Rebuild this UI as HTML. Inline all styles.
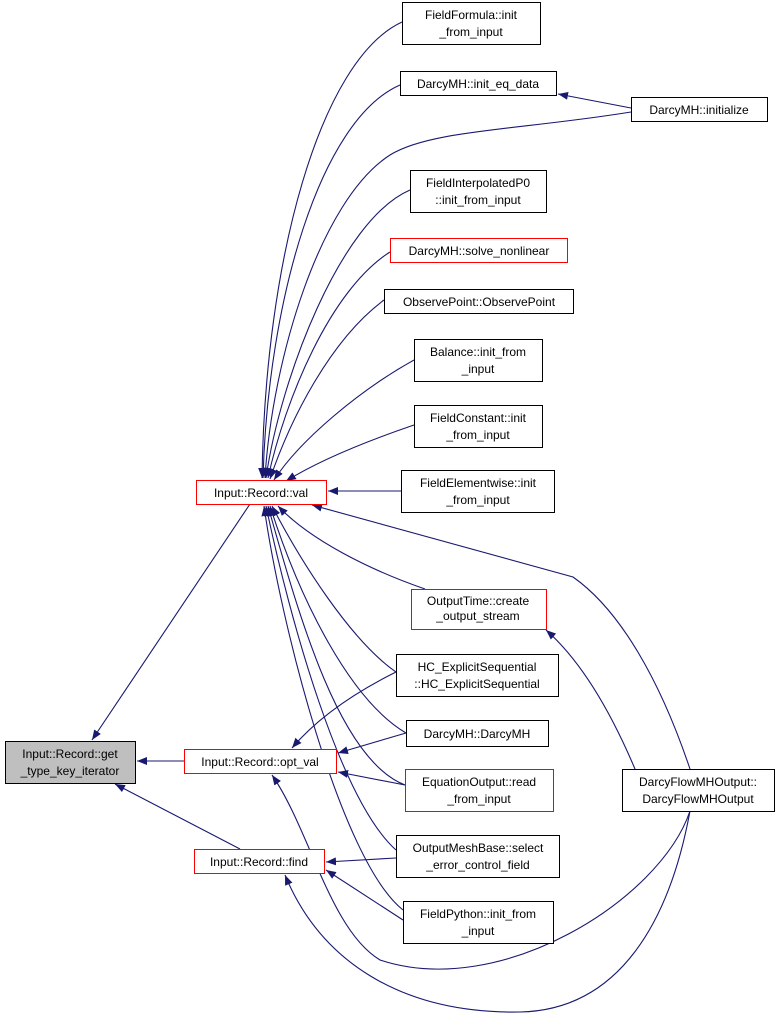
<!DOCTYPE html>
<html><head><meta charset="utf-8"><style>
body{margin:0;background:#fff;width:781px;height:1023px;overflow:hidden}
svg text{font-family:"Liberation Sans",sans-serif;font-size:12px;fill:#000}
</style></head><body>
<svg width="781" height="1023" viewBox="0 0 781 1023">
<defs><marker id="a" viewBox="0 0 10 10" refX="10" refY="5" markerWidth="10" markerHeight="10" markerUnits="userSpaceOnUse" orient="auto"><path d="M0,1 L10,5 L0,9 z" fill="#191970"/></marker></defs>
<g fill="none" stroke="#191970" stroke-width="1.1" marker-end="url(#a)">
<path d="M250,504 L92,740"/>
<path d="M184,761 L137,761"/>
<path d="M240,849 L115,784"/>
<path d="M402,22 C320,60 265,260 262,478"/>
<path d="M400,85 C320,120 268,300 263,478"/>
<path d="M631,112 C520,130 430,130 390,155 C320,200 272,360 265,478"/>
<path d="M631,108 L558,94"/>
<path d="M410,190 C340,220 280,380 266,478"/>
<path d="M390,252 C330,290 285,400 268,478"/>
<path d="M384,300 C330,340 290,420 270,479"/>
<path d="M414,360 C360,390 300,440 274,480"/>
<path d="M414,425 C370,440 320,460 286,481"/>
<path d="M401,491 L328,491"/>
<path d="M690,769 C660,680 620,610 573,577 L312,505"/>
<path d="M425,589 C370,570 310,540 278,506"/>
<path d="M396,672 C350,640 300,560 272,506"/>
<path d="M406,733 C350,700 300,600 270,506"/>
<path d="M405,785 C340,760 300,620 268,506"/>
<path d="M396,850 C340,800 290,620 266,506"/>
<path d="M403,910 C340,860 280,620 264,506"/>
<path d="M396,672 C360,690 320,715 292,748"/>
<path d="M406,733 L338,753"/>
<path d="M405,785 L338,772"/>
<path d="M690,811 C660,900 500,1000 380,960 C330,930 310,830 272,775"/>
<path d="M396,858 L326,862"/>
<path d="M403,920 L326,870"/>
<path d="M690,811 C670,920 620,1010 520,1012 C400,1014 320,960 285,875"/>
<path d="M635,769 C610,710 580,660 546,630"/>
</g>
<g stroke-width="1">
<rect x="5.5" y="741.5" width="130" height="42" fill="#bfbfbf" stroke="#000"/>
<rect x="196.5" y="480.5" width="130" height="24" fill="#fff" stroke="#f00"/>
<rect x="184.5" y="749.5" width="152" height="24" fill="#fff" stroke="#f00"/>
<rect x="194.5" y="849.5" width="130" height="24" fill="#fff" stroke="#f00"/>
<rect x="402.5" y="2.5" width="138" height="42" fill="#fff" stroke="#000"/>
<rect x="400.5" y="71.5" width="156" height="24" fill="#fff" stroke="#000"/>
<rect x="631.5" y="97.5" width="136" height="24" fill="#fff" stroke="#000"/>
<rect x="410.5" y="170.5" width="136" height="42" fill="#fff" stroke="#000"/>
<rect x="390.5" y="238.5" width="177" height="24" fill="#fff" stroke="#f00"/>
<rect x="384.5" y="289.5" width="189" height="24" fill="#fff" stroke="#000"/>
<rect x="414.5" y="339.5" width="128" height="42" fill="#fff" stroke="#000"/>
<rect x="414.5" y="405.5" width="128" height="42" fill="#fff" stroke="#000"/>
<rect x="401.5" y="470.5" width="153" height="42" fill="#fff" stroke="#000"/>
<rect x="411.5" y="589.5" width="135" height="40" fill="#fff" stroke="#f00"/>
<rect x="396.5" y="654.5" width="162" height="42" fill="#fff" stroke="#000"/>
<rect x="406.5" y="720.5" width="142" height="26" fill="#fff" stroke="#000"/>
<rect x="405.5" y="769.5" width="148" height="42" fill="#fff" stroke="#f00"/>
<rect x="396.5" y="835.5" width="163" height="42" fill="#fff" stroke="#000"/>
<rect x="403.5" y="901.5" width="150" height="42" fill="#fff" stroke="#000"/>
<rect x="622.5" y="769.5" width="152" height="42" fill="#fff" stroke="#000"/>
</g>
<g text-anchor="middle">
<text x="70" y="758">Input::Record::get</text><text x="70" y="775">_type_key_iterator</text>
<text x="261" y="497">Input::Record::val</text>
<text x="260" y="766">Input::Record::opt_val</text>
<text x="259" y="866">Input::Record::find</text>
<text x="471" y="19">FieldFormula::init</text><text x="471" y="36">_from_input</text>
<text x="478" y="88">DarcyMH::init_eq_data</text>
<text x="699" y="114">DarcyMH::initialize</text>
<text x="478" y="187">FieldInterpolatedP0</text><text x="478" y="204">::init_from_input</text>
<text x="479" y="255">DarcyMH::solve_nonlinear</text>
<text x="479" y="306">ObservePoint::ObservePoint</text>
<text x="478" y="356">Balance::init_from</text><text x="478" y="373">_input</text>
<text x="478" y="422">FieldConstant::init</text><text x="478" y="439">_from_input</text>
<text x="478" y="487">FieldElementwise::init</text><text x="478" y="504">_from_input</text>
<text x="478" y="605">OutputTime::create</text><text x="478" y="620">_output_stream</text>
<text x="477" y="671">HC_ExplicitSequential</text><text x="477" y="688">::HC_ExplicitSequential</text>
<text x="477" y="738">DarcyMH::DarcyMH</text>
<text x="479" y="786">EquationOutput::read</text><text x="479" y="803">_from_input</text>
<text x="478" y="852">OutputMeshBase::select</text><text x="478" y="869">_error_control_field</text>
<text x="478" y="918">FieldPython::init_from</text><text x="478" y="935">_input</text>
<text x="698" y="786">DarcyFlowMHOutput::</text><text x="698" y="803">DarcyFlowMHOutput</text>
</g>
</svg>
</body></html>
